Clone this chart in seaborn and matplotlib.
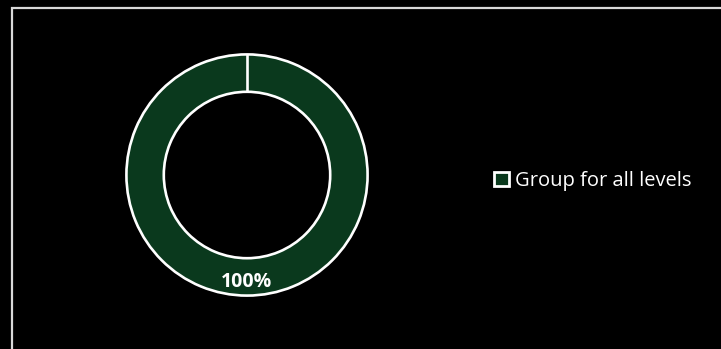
import matplotlib
matplotlib.use("Agg")
import matplotlib.pyplot as plt
from matplotlib.patches import Rectangle, Patch
import seaborn as sns

# Data
categories = ["Group for all levels"]
shares = [100]
slice_labels = ["100%"]

sns.set_theme(style="dark")
plt.rcParams["font.family"] = ["Open Sans", "DejaVu Sans"]

ring_color = sns.dark_palette("#0a391d", n_colors=2)[-1]

W, H, DPI = 721, 349, 100
fig = plt.figure(figsize=(W / DPI, H / DPI), dpi=DPI, facecolor="black")

# Outer frame of the chart area
fig.patches.append(Rectangle((11.5 / W, -0.1), 1.2, 1.1 - 8.5 / H,
                             transform=fig.transFigure, fill=False,
                             edgecolor="#d9d9d9", linewidth=1.6))

# Doughnut
cx, cy, r = 247, 175, 123
hole = 0.31
ax = fig.add_axes([(cx - r) / W, (H - cy - r) / H, 2 * r / W, 2 * r / H])
ax.set_facecolor("black")
wedges, _ = ax.pie(shares, startangle=90, counterclock=False,
                   colors=[ring_color], radius=1.0,
                   wedgeprops=dict(width=hole, edgecolor="white", linewidth=1.9))
# slice boundary at the start angle
ax.plot([0, 0], [1 - hole, 1], color="white", linewidth=1.9, solid_capstyle="butt")
ax.set_xlim(-1.02, 1.02)
ax.set_ylim(-1.02, 1.02)
ax.set_aspect("equal")
ax.axis("off")

ax.text(0, -0.885, slice_labels[0], ha="center", va="center",
        color="white", fontsize=14, fontweight="bold")

# Legend
handles = [Patch(facecolor=ring_color, edgecolor="white", linewidth=2)]
leg = fig.legend(handles, categories, loc="center left",
                 bbox_to_anchor=(494 / W, 1 - 181 / H), frameon=False,
                 handlelength=0.75, handleheight=0.75, handletextpad=0.3,
                 borderpad=0, borderaxespad=0, fontsize=14.5)
for t in leg.get_texts():
    t.set_color("white")

fig.savefig("out.png", dpi=DPI, facecolor="black")
